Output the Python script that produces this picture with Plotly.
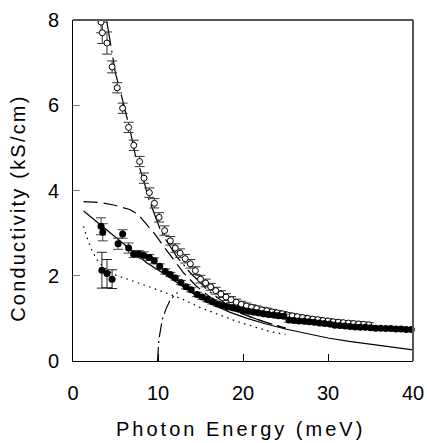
import plotly.graph_objects as go

# ---------------- data ----------------
open_x = [3.3, 3.45, 4.0, 4.6, 5.2, 5.84, 6.54, 7.15, 7.84, 8.35, 8.98, 9.58, 10.13, 10.78,
          11.45, 12.04, 12.6, 13.2, 13.8, 14.4, 15.0, 15.6, 16.2, 16.8, 17.4, 18.0, 18.6,
          19.2, 19.8, 20.4, 21.0, 21.6, 22.2, 22.8, 23.4, 24.0, 24.6, 25.2, 25.8, 26.4,
          27.0, 27.6, 28.2, 28.8, 29.4, 30.0, 30.6, 31.2, 31.8, 32.4, 33.0, 33.6, 34.2, 34.8]
open_y = [7.95, 7.7, 7.46, 6.9, 6.41, 5.93, 5.48, 5.06, 4.68, 4.29, 3.95, 3.70, 3.37, 3.06,
          2.82, 2.65, 2.53, 2.40, 2.28, 2.12, 1.92, 1.83, 1.74, 1.65, 1.57, 1.50, 1.44,
          1.38, 1.33, 1.29, 1.26, 1.23, 1.20, 1.18, 1.15, 1.13, 1.11, 1.08, 1.06, 1.04,
          1.02, 1.00, 0.98, 0.97, 0.95, 0.94, 0.92, 0.91, 0.90, 0.89, 0.88, 0.87, 0.86, 0.85]
open_err = [0.25, 0.25, 0.26, 0.14, 0.12, 0.12, 0.12, 0.12, 0.12, 0.12, 0.11, 0.11, 0.11, 0.11,
            0.1, 0.1, 0.1, 0.1, 0.1, 0.09, 0.09, 0.09, 0.08, 0.08, 0.08, 0.08, 0.07,
            0.07, 0.07, 0.07, 0.06, 0.06, 0.06, 0.06, 0.06, 0.05, 0.05, 0.05, 0.05, 0.05,
            0.05, 0.05, 0.05, 0.05, 0.05, 0.05, 0.05, 0.05, 0.05, 0.05, 0.05, 0.05, 0.05, 0.05]

filled_x = [3.3, 3.5, 5.3, 5.84, 6.54, 7.13, 7.72, 8.3, 8.98, 9.56, 10.2, 10.86, 11.45, 12.04,
            12.7, 13.3, 13.9, 14.6, 15.2, 15.8, 16.4, 17.0, 17.6, 18.2, 18.8, 19.4, 20.0,
            20.6, 21.2, 21.8, 22.4, 23.0, 23.6, 24.2, 24.8, 25.4, 26.0, 26.6, 27.2, 27.8,
            28.4, 29.0, 29.6, 30.2, 30.8, 31.4, 32.0, 32.6, 33.2, 33.8, 34.4, 35.0, 35.6,
            36.2, 36.8, 37.4, 38.0, 38.6, 39.2, 39.8, 40.4]
filled_y = [3.16, 3.02, 2.75, 2.98, 2.65, 2.51, 2.51, 2.48, 2.43, 2.35, 2.22, 2.10, 2.03, 1.95,
            1.84, 1.74, 1.67, 1.56, 1.50, 1.44, 1.39, 1.34, 1.30, 1.27, 1.25, 1.22, 1.19,
            1.17, 1.15, 1.13, 1.11, 1.09, 1.08, 1.06, 1.05, 0.96, 0.95, 0.94, 0.93, 0.92,
            0.91, 0.89, 0.88, 0.87, 0.84, 0.83, 0.82, 0.81, 0.80, 0.79, 0.79, 0.78, 0.77,
            0.77, 0.76, 0.76, 0.75, 0.75, 0.74, 0.74, 0.74]
filled_err = [0.2, 0.2, 0.13, 0.1, 0.12, 0.08, 0.08, 0.08, 0.07, 0.07, 0.06, 0.06, 0.05, 0.05,
              0.05, 0.05, 0.05, 0.05, 0.05, 0.05, 0.05, 0.05, 0.05, 0.05, 0.05, 0.05, 0.05,
              0.05, 0.05, 0.05, 0.05, 0.05, 0.05, 0.05, 0.05, 0.05, 0.05, 0.05, 0.05, 0.05,
              0.04, 0.04, 0.04, 0.04, 0.04, 0.04, 0.04, 0.04, 0.04, 0.04, 0.04, 0.04, 0.04,
              0.04, 0.04, 0.04, 0.04, 0.04, 0.04, 0.04, 0.04]

low_x = [3.4, 4.0, 4.6]
low_y = [2.13, 2.05, 1.92]
low_err = [0.42, 0.33, 0.22]

fit_filled_x = [1.25, 3.2, 4.8, 6.7, 8.7, 10.7, 12.6, 14.6, 16.5, 18.5, 20.5, 22.5, 25.0,
                27.5, 30.0, 32.5, 35.0, 37.5, 40.0]
fit_filled_y = [3.52, 3.2, 2.92, 2.61, 2.30, 2.05, 1.80, 1.52, 1.32, 1.14, 1.0, 0.88, 0.75,
                0.64, 0.54, 0.46, 0.39, 0.32, 0.26]

fit_open_x = [3.95, 4.5, 5.0, 5.8, 6.75, 7.33, 8.3, 8.9, 10.27, 10.9, 12.2, 13.8, 15.8,
              18.1, 20.5, 22.5, 25.0]
fit_open_y = [8.0, 7.35, 6.75, 6.15, 5.38, 4.83, 4.25, 3.81, 3.08, 2.85, 2.45, 2.07, 1.67,
              1.32, 1.06, 0.92, 0.77]

drude_x = [1.25, 3.2, 4.8, 6.74, 7.7, 8.7, 9.7, 10.66, 11.8, 13.0, 14.5, 16.0, 18.0, 20.0,
           22.5, 25.0]
drude_y = [3.74, 3.72, 3.66, 3.55, 3.43, 3.19, 2.96, 2.69, 2.38, 2.07, 1.76, 1.52, 1.28,
           1.10, 0.92, 0.77]

dotted_x = [1.25, 1.6, 2.2, 2.8, 3.6, 4.8, 6.0, 7.3, 8.7, 10.1, 11.5, 13.0, 15.0, 17.0,
            19.0, 21.0, 23.0, 25.0]
dotted_y = [3.16, 2.92, 2.61, 2.38, 2.2, 2.03, 1.95, 1.85, 1.76, 1.66, 1.56, 1.44, 1.25,
            1.10, 0.95, 0.82, 0.70, 0.62]

gap_x = [9.95, 10.1, 10.5, 10.9, 11.45, 12.0, 12.3]
gap_y = [0.0, 0.5, 0.97, 1.2, 1.44, 1.56, 1.61]

x_ticks = [0, 10, 20, 30, 40]
y_ticks = [0, 2, 4, 6, 8]

FONT = "Liberation Sans, Arial, sans-serif"

fig = go.Figure()

line_w = 1.2
fig.add_trace(go.Scatter(x=dotted_x, y=dotted_y, mode="lines",
                         line=dict(color="black", width=1.3, dash="1.5px,4.5px"),
                         showlegend=False))
fig.add_trace(go.Scatter(x=drude_x, y=drude_y, mode="lines",
                         line=dict(color="black", width=line_w, dash="14px,6px"),
                         showlegend=False))
fig.add_trace(go.Scatter(x=gap_x, y=gap_y, mode="lines",
                         line=dict(color="black", width=line_w, dash="14px,4px,2px,4px"),
                         showlegend=False))
fig.add_trace(go.Scatter(x=fit_filled_x, y=fit_filled_y, mode="lines",
                         line=dict(color="black", width=line_w),
                         showlegend=False))
fig.add_trace(go.Scatter(x=fit_open_x, y=fit_open_y, mode="lines",
                         line=dict(color="black", width=line_w, dash="26px,5px,2px,5px"),
                         showlegend=False))

fig.add_trace(go.Scatter(x=open_x, y=open_y, mode="markers",
                         marker=dict(symbol="circle", size=6, color="white",
                                     line=dict(color="black", width=1)),
                         error_y=dict(type="data", array=open_err, visible=True,
                                      color="#333", thickness=1, width=5),
                         showlegend=False))
fig.add_trace(go.Scatter(x=low_x, y=low_y, mode="markers",
                         marker=dict(symbol="circle", size=7, color="black"),
                         error_y=dict(type="data", array=low_err, visible=True,
                                      color="#222", thickness=1, width=5),
                         showlegend=False))
fig.add_trace(go.Scatter(x=filled_x, y=filled_y, mode="markers", cliponaxis=False,
                         marker=dict(symbol="circle", size=7, color="black"),
                         error_y=dict(type="data", array=filled_err, visible=True,
                                      color="#444", thickness=1, width=5),
                         showlegend=False))

fig.update_layout(
    width=427, height=443,
    margin=dict(l=73, r=14, t=20, b=82, autoexpand=False),
    plot_bgcolor="white", paper_bgcolor="white",
    font=dict(family=FONT, size=20, color="black"),
    showlegend=False,
)
fig.update_xaxes(range=[0, 40], tickvals=x_ticks, ticktext=[str(v) for v in x_ticks],
                 ticks="inside", ticklen=7, tickcolor="black", tickwidth=1,
                 showline=True, linecolor="black", linewidth=1, mirror=False,
                 showgrid=False, zeroline=False, ticklabelstandoff=14, automargin=False,
                 tickfont=dict(size=20, family=FONT))
fig.update_yaxes(range=[0, 8], tickvals=y_ticks, ticktext=[str(v) for v in y_ticks],
                 ticks="inside", ticklen=7, tickcolor="#777", tickwidth=1,
                 showline=True, linecolor="black", linewidth=1, mirror=False,
                 showgrid=False, zeroline=False, ticklabelstandoff=9, automargin=False,
                 tickfont=dict(size=20, family=FONT))

# top and right frame lines (grey)
fig.add_shape(type="line", xref="paper", yref="paper", x0=0, x1=1, y0=1, y1=1,
              line=dict(color="#555", width=2))
fig.add_shape(type="line", xref="paper", yref="paper", x0=1, x1=1, y0=0, y1=1,
              line=dict(color="#555", width=2))

fig.add_annotation(text='<span style="letter-spacing:3px">Photon Energy (meV)</span>',
                   xref="paper", yref="paper", x=0.494, y=-0.2006,
                   xanchor="center", yanchor="middle", showarrow=False,
                   font=dict(size=20, family=FONT, color="black"))
fig.add_annotation(text='<span style="letter-spacing:2.2px">Conductivity (kS/cm)</span>',
                   xref="paper", yref="paper", x=-0.162, y=0.449, textangle=-90,
                   xanchor="center", yanchor="middle", showarrow=False,
                   font=dict(size=20, family=FONT, color="black"))

fig.write_html("out.html", config={"displayModeBar": False},
               post_script="document.body.style.margin='0';document.body.style.overflow='hidden';")
